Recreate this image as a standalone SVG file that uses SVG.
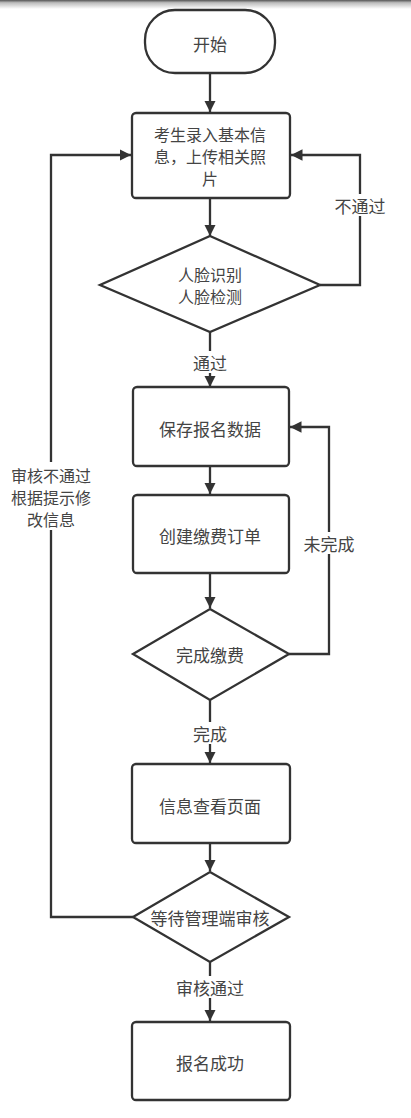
<svg xmlns="http://www.w3.org/2000/svg" width="411" height="1118" viewBox="0 0 411 1118">
<defs>
<linearGradient id="topShade" x1="0" y1="0" x2="0" y2="1">
<stop offset="0" stop-color="#555"/>
<stop offset="0.3" stop-color="#bbb"/>
<stop offset="1" stop-color="#fff"/>
</linearGradient>
<marker id="arr" viewBox="0 0 10 10" refX="10" refY="5" markerWidth="5" markerHeight="5" orient="auto" markerUnits="strokeWidth">
<path d="M0,0 L10,5 L0,10 z" fill="#333"/>
</marker>
</defs>
<style>
.shape{fill:#fff;stroke:#333;stroke-width:2.3}
.edge{fill:none;stroke:#333;stroke-width:2.3;marker-end:url(#arr)}
text{font-family:"Noto Sans CJK SC","Noto Sans",sans-serif;font-size:17px;fill:#444;text-anchor:middle;dominant-baseline:central}
.ml{font-size:16px}
.lbl{fill:#fff}
</style>
<rect x="0" y="0" width="411" height="1118" fill="#fff"/>
<rect x="0" y="0" width="411" height="9" fill="url(#topShade)"/>
<g id="connectors">
<path class="edge" d="M210,73 L210,112"/>
<path class="edge" d="M210,198 L210,236"/>
<path class="edge" d="M320,285 L360,285 L360,155 L291,155"/>
<path class="edge" d="M210,332 L210,387"/>
<path class="edge" d="M210,466 L210,494"/>
<path class="edge" d="M210,573 L210,608"/>
<path class="edge" d="M289,654 L329,654 L329,427 L290,427"/>
<path class="edge" d="M210,700 L210,763"/>
<path class="edge" d="M210,843 L210,871"/>
<path class="edge" d="M133,917 L51,917 L51,155 L131,155"/>
<path class="edge" d="M210,962 L210,1021"/>
<rect class="lbl" x="332" y="194" width="56" height="22"/>
<text x="360" y="205">不通过</text>
<rect class="lbl" x="192" y="351" width="36" height="22"/>
<text x="210" y="362">通过</text>
<rect class="lbl" x="302" y="532" width="54" height="22"/>
<text x="329" y="543">未完成</text>
<rect class="lbl" x="192" y="722" width="36" height="22"/>
<text x="210" y="733">完成</text>
<rect class="lbl" x="174" y="976" width="72" height="22"/>
<text x="210" y="987">审核通过</text>
<rect class="lbl" x="8" y="462" width="86" height="68"/>
<text class="ml" x="51" y="475">审核不通过</text>
<text class="ml" x="51" y="497">根据提示修</text>
<text class="ml" x="51" y="519">改信息</text>
</g>
<g id="start">
<rect class="shape" x="145" y="10" width="130" height="63" rx="30" ry="30"/>
<text x="210" y="43">开始</text>
</g>
<g id="input">
<rect class="shape" x="132" y="113" width="158" height="85" rx="4"/>
<text class="ml" x="210" y="134">考生录入基本信</text>
<text class="ml" x="210" y="156">息，上传相关照</text>
<text class="ml" x="210" y="178">片</text>
</g>
<g id="face">
<polygon class="shape" points="210,236 320,285 210,332 100,285"/>
<text class="ml" x="210" y="274">人脸识别</text>
<text class="ml" x="210" y="296">人脸检测</text>
</g>
<g id="save">
<rect class="shape" x="133" y="387" width="156" height="79" rx="4"/>
<text x="210" y="428">保存报名数据</text>
</g>
<g id="order">
<rect class="shape" x="133" y="495" width="156" height="78" rx="4"/>
<text x="210" y="535">创建缴费订单</text>
</g>
<g id="pay">
<polygon class="shape" points="210,609 289,654 210,700 133,654"/>
<text x="210" y="654">完成缴费</text>
</g>
<g id="view">
<rect class="shape" x="132" y="764" width="158" height="79" rx="4"/>
<text x="210" y="805">信息查看页面</text>
</g>
<g id="review">
<polygon class="shape" points="210,872 289,917 210,962 133,917"/>
<text x="210" y="917">等待管理端审核</text>
</g>
<g id="success">
<rect class="shape" x="132" y="1022" width="158" height="78" rx="4"/>
<text x="210" y="1062">报名成功</text>
</g>
</svg>
